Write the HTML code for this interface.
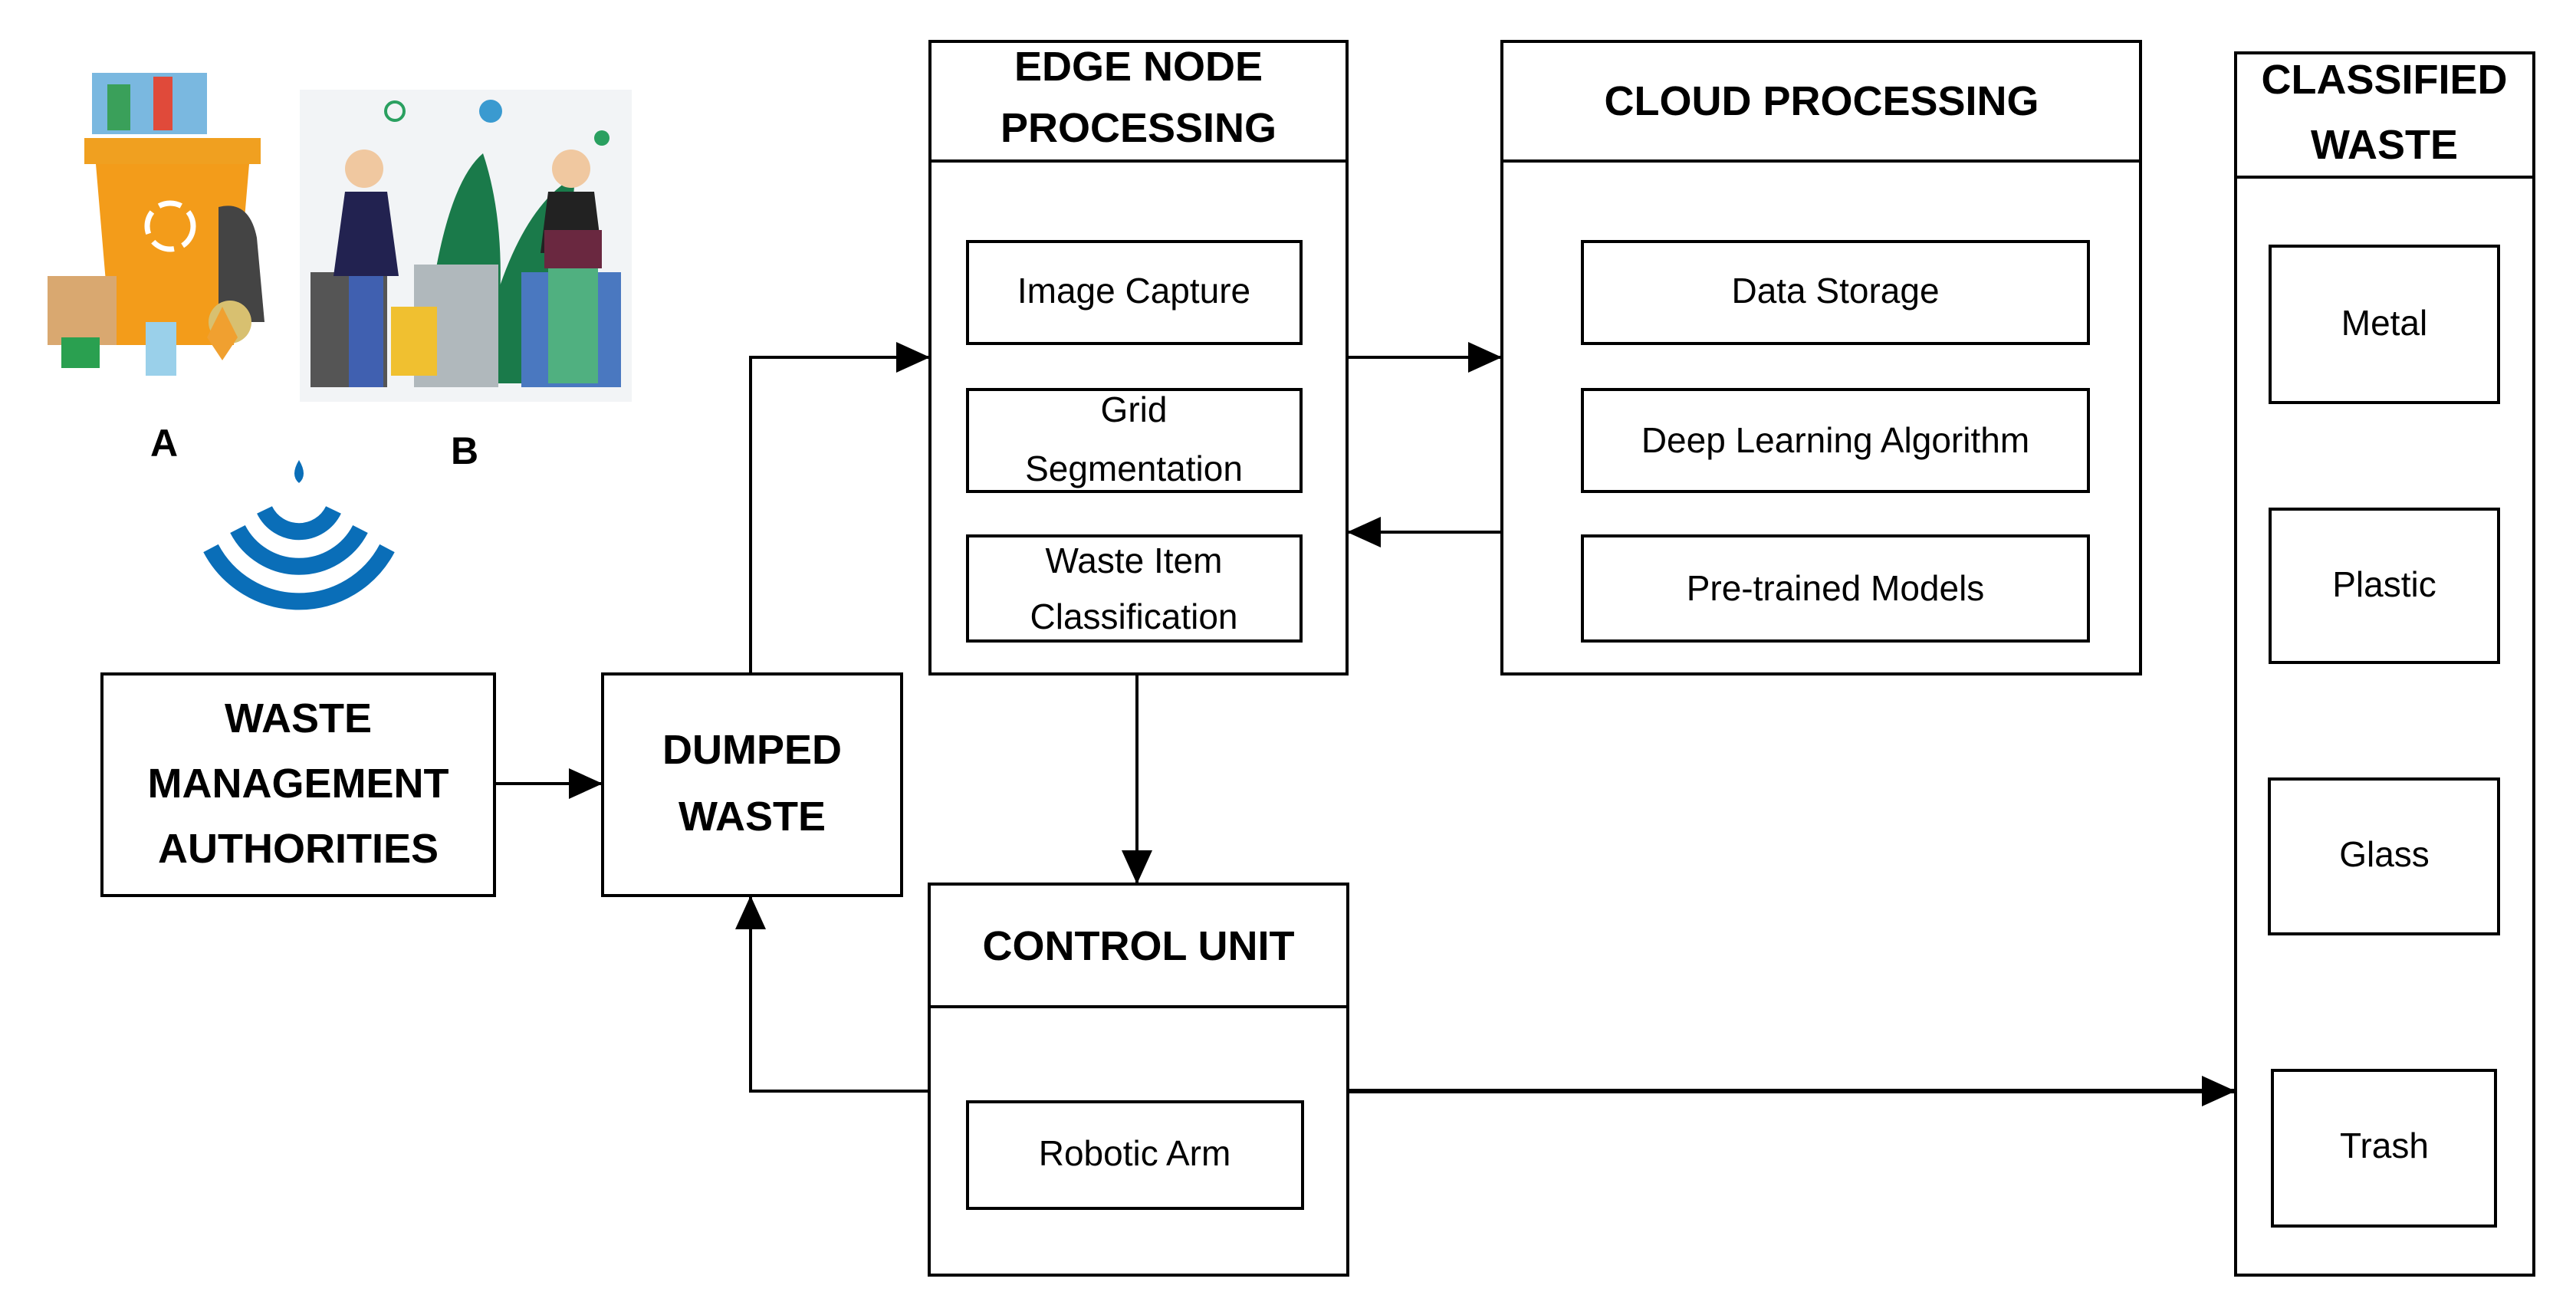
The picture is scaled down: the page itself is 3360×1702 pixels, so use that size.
<!DOCTYPE html>
<html><head><meta charset="utf-8"><style>
html,body{margin:0;padding:0;background:#fff}
svg{display:block}
.h{font-family:"Liberation Sans",sans-serif;font-weight:bold;font-size:54px;fill:#000;text-anchor:middle}
.t{font-family:"Liberation Sans",sans-serif;font-size:46px;fill:#000;text-anchor:middle}
.b{fill:none;stroke:#000;stroke-width:4}
.l{fill:none;stroke:#000;stroke-width:4}
</style></head><body>
<svg width="3360" height="1702" viewBox="0 0 3360 1702" xmlns="http://www.w3.org/2000/svg">
<defs><marker id="ar" markerWidth="44" markerHeight="40" refX="10" refY="5" orient="auto" markerUnits="userSpaceOnUse" viewBox="0 0 10 10" preserveAspectRatio="none"><path d="M0,0 L10,5 L0,10 z" fill="#000"/></marker></defs>

<!-- illustration A: bin -->
<g>
<rect x="120" y="95" width="150" height="80" fill="#7ab8e0"/>
<rect x="140" y="110" width="30" height="60" fill="#3aa05a"/>
<rect x="200" y="100" width="25" height="70" fill="#e04a3a"/>
<rect x="110" y="180" width="230" height="34" fill="#f0a020"/>
<path d="M125 214 L325 214 L305 450 L145 450 Z" fill="#f39c1a"/>
<circle cx="222" cy="295" r="30" fill="none" stroke="#fff" stroke-width="7" stroke-dasharray="30 12"/>
<rect x="62" y="360" width="90" height="90" fill="#d9a870"/>
<path d="M285 270 q40 -10 50 40 l10 110 h-60 z" fill="#444"/>
<rect x="80" y="440" width="50" height="40" fill="#2aa050"/>
<circle cx="300" cy="420" r="28" fill="#d8c070"/>
<path d="M270 440 l20 -40 l20 40 l-20 30 z" fill="#f0a030"/>
<rect x="190" y="420" width="40" height="70" fill="#9ad0ea"/>
</g>
<!-- illustration B -->
<g>
<rect x="391" y="117" width="433" height="407" fill="#f2f4f6"/>
<path d="M550 500 q20 -250 80 -300 q40 120 10 300 z" fill="#1a7a4a"/>
<path d="M620 500 q40 -220 130 -270 q-10 150 -60 270 z" fill="#1a7a4a"/>
<rect x="405" y="355" width="100" height="150" fill="#555"/>
<rect x="540" y="345" width="110" height="160" fill="#b0b8bc"/>
<rect x="680" y="355" width="130" height="150" fill="#4a78c0"/>
<circle cx="475" cy="220" r="25" fill="#f0c8a0"/>
<path d="M450 250 h55 l15 110 h-85 z" fill="#222250"/>
<rect x="455" y="360" width="45" height="145" fill="#4060b0"/>
<circle cx="745" cy="220" r="25" fill="#f0c8a0"/>
<path d="M715 250 h60 l10 80 h-80 z" fill="#222"/>
<rect x="710" y="300" width="75" height="50" fill="#6a2840"/>
<rect x="715" y="350" width="65" height="150" fill="#50b080"/>
<rect x="510" y="400" width="60" height="90" fill="#f0c030"/>
<circle cx="640" cy="145" r="15" fill="#3a9ad0"/>
<circle cx="515" cy="145" r="12" fill="none" stroke="#2aa060" stroke-width="4"/>
<circle cx="785" cy="180" r="10" fill="#2aa060"/>
</g>
<text x="214" y="595" class="h" style="font-size:50px">A</text>
<text x="606" y="605" class="h" style="font-size:50px">B</text>
<!-- wifi -->
<g fill="none" stroke="#0a6eb8" stroke-width="22" stroke-linecap="butt">
<path d="M345 665 A 50 50 0 0 0 435 665"/>
<path d="M310 690 A 90 90 0 0 0 470 690"/>
<path d="M275 715 A 130 130 0 0 0 505 715"/>
</g>
<path d="M390 600 q-12 20 0 30 q12 -10 0 -30 z" fill="#0a6eb8"/>

<!-- WMA -->
<rect x="133" y="879" width="512" height="289" class="b"/>
<text x="389" y="955" class="h">WASTE</text>
<text x="389" y="1040" class="h">MANAGEMENT</text>
<text x="389" y="1125" class="h">AUTHORITIES</text>
<!-- Dumped -->
<rect x="786" y="879" width="390" height="289" class="b"/>
<text x="981" y="996" class="h">DUMPED</text>
<text x="981" y="1083" class="h">WASTE</text>

<!-- Edge -->
<rect x="1213" y="54" width="544" height="825" class="b"/>
<line x1="1213" y1="210" x2="1757" y2="210" class="l"/>
<text x="1485" y="105" class="h">EDGE NODE</text>
<text x="1485" y="185" class="h">PROCESSING</text>
<rect x="1262" y="315" width="435" height="133" class="b"/>
<text x="1479" y="395" class="t">Image Capture</text>
<rect x="1262" y="508" width="435" height="133" class="b"/>
<text x="1479" y="550" class="t">Grid</text>
<text x="1479" y="627" class="t">Segmentation</text>
<rect x="1262" y="699" width="435" height="137" class="b"/>
<text x="1479" y="747" class="t">Waste Item</text>
<text x="1479" y="820" class="t">Classification</text>

<!-- Cloud -->
<rect x="1959" y="54" width="833" height="825" class="b"/>
<line x1="1959" y1="210" x2="2792" y2="210" class="l"/>
<text x="2376" y="150" class="h">CLOUD PROCESSING</text>
<rect x="2064" y="315" width="660" height="133" class="b"/>
<text x="2394" y="395" class="t">Data Storage</text>
<rect x="2064" y="508" width="660" height="133" class="b"/>
<text x="2394" y="590" class="t">Deep Learning Algorithm</text>
<rect x="2064" y="699" width="660" height="137" class="b"/>
<text x="2394" y="783" class="t">Pre-trained Models</text>

<!-- Control -->
<rect x="1212" y="1153" width="546" height="510" class="b"/>
<line x1="1212" y1="1313" x2="1758" y2="1313" class="l"/>
<text x="1485" y="1252" class="h">CONTROL UNIT</text>
<rect x="1262" y="1437" width="437" height="139" class="b"/>
<text x="1480" y="1520" class="t">Robotic Arm</text>

<!-- Classified -->
<rect x="2916" y="69" width="389" height="1594" class="b"/>
<line x1="2916" y1="231" x2="3305" y2="231" class="l"/>
<text x="3110" y="122" class="h">CLASSIFIED</text>
<text x="3110" y="207" class="h">WASTE</text>
<rect x="2961" y="321" width="298" height="204" class="b"/>
<text x="3110" y="437" class="t">Metal</text>
<rect x="2961" y="664" width="298" height="200" class="b"/>
<text x="3110" y="778" class="t">Plastic</text>
<rect x="2960" y="1016" width="299" height="202" class="b"/>
<text x="3110" y="1130" class="t">Glass</text>
<rect x="2964" y="1396" width="291" height="203" class="b"/>
<text x="3110" y="1510" class="t">Trash</text>

<!-- connectors -->
<line x1="645" y1="1022" x2="786" y2="1022" class="l" marker-end="url(#ar)"/>
<polyline points="979,879 979,466 1213,466" class="l" marker-end="url(#ar)"/>
<line x1="1757" y1="466" x2="1959" y2="466" class="l" marker-end="url(#ar)"/>
<line x1="1959" y1="694" x2="1757" y2="694" class="l" marker-end="url(#ar)"/>
<line x1="1483" y1="879" x2="1483" y2="1153" class="l" marker-end="url(#ar)"/>
<polyline points="1212,1423 979,1423 979,1168" class="l" marker-end="url(#ar)"/>
<line x1="1758" y1="1423" x2="2916" y2="1423" class="l" style="stroke-width:6" marker-end="url(#ar)"/>
</svg>
</body></html>
